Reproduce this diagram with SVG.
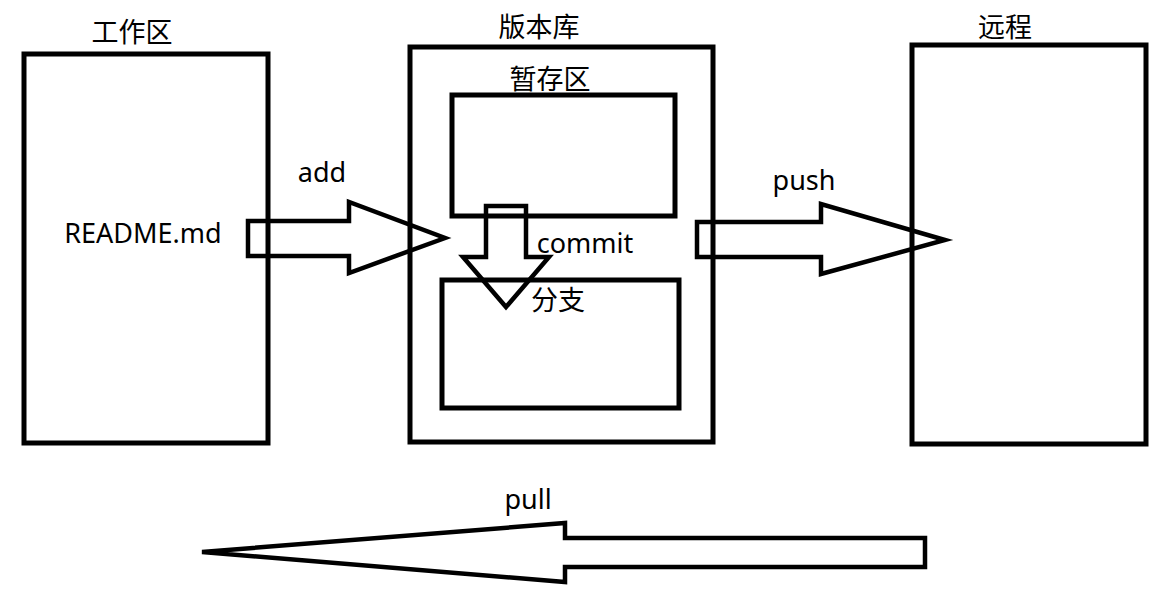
<svg xmlns="http://www.w3.org/2000/svg" width="1169" height="594" viewBox="0 0 1169 594">
<style>
.box{fill:none;stroke:#000;stroke-width:5}
.arr{fill:none;stroke:#000;stroke-width:4.5;stroke-linejoin:miter}
text{font-family:"Noto Sans","Noto Sans CJK SC",sans-serif;font-size:27px;fill:#000}
.cjk{font-family:"Noto Sans CJK SC","Noto Sans",sans-serif;font-size:27px}
</style>
<rect width="1169" height="594" fill="#fff"/>
<g id="workspace">
<rect class="box" x="24" y="54" width="244" height="389"/>
<text class="cjk" x="132" y="42" text-anchor="middle">工作区</text>
<text x="143" y="243" text-anchor="middle">README.md</text>
</g>
<g id="repo">
<rect class="box" x="410" y="47" width="303" height="395"/>
<text class="cjk" x="539" y="37" text-anchor="middle">版本库</text>
</g>
<g id="stage">
<rect class="box" x="452" y="95" width="223" height="121"/>
<text class="cjk" x="550" y="89" text-anchor="middle">暂存区</text>
</g>
<g id="branch">
<rect class="box" x="442" y="280" width="237" height="128"/>
<text class="cjk" x="558" y="310" text-anchor="middle">分支</text>
</g>
<g id="remote">
<rect class="box" x="912" y="45" width="234" height="399"/>
<text class="cjk" x="1005" y="37" text-anchor="middle">远程</text>
</g>
<g id="connectors">
<polygon class="arr" points="248,221 349,221 349,202 445,238 349,273 349,256 248,256"/>
<text x="322" y="182" text-anchor="middle">add</text>
<polygon class="arr" points="697,222 821,222 821,204 945,240 821,274 821,257 697,257"/>
<text x="804" y="190" text-anchor="middle">push</text>
<polygon class="arr" points="486,206 526,206 526,257 549,257 506,307 463,257 486,257"/>
<text x="585" y="253" text-anchor="middle">commit</text>
<polygon class="arr" points="925,538 565,538 565,523 202,552 565,582 565,567 925,567"/>
<text x="528" y="509" text-anchor="middle">pull</text>
</g>
</svg>
